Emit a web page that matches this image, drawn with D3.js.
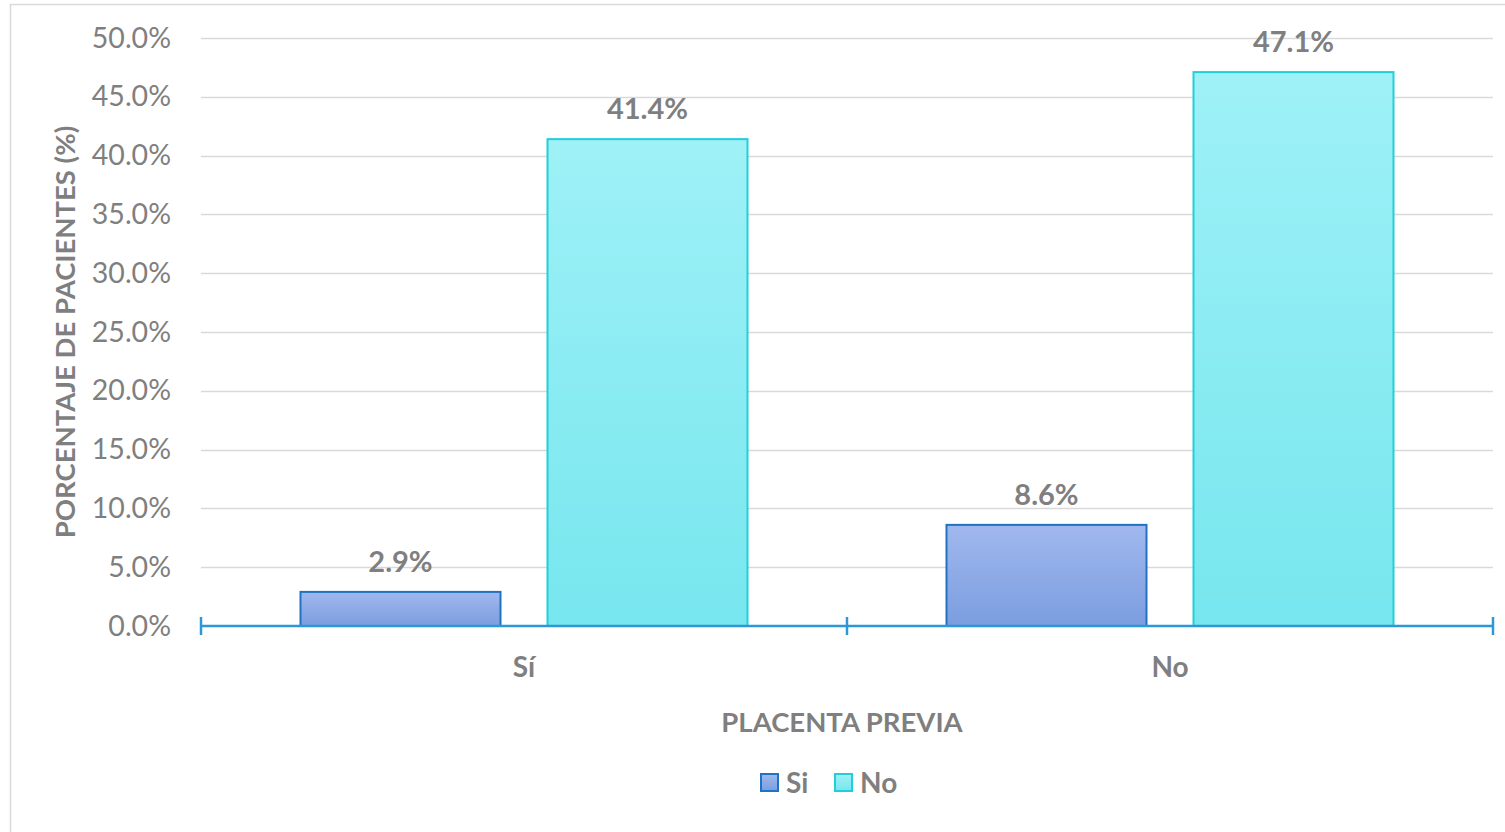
<!DOCTYPE html>
<html>
<head>
<meta charset="utf-8">
<script src="https://cdn.jsdelivr.net/npm/d3@7"></script>
<style>
  html, body { margin: 0; padding: 0; background: #fff; }
  svg { display: block; font-family: Lato, "Open Sans", sans-serif; }
</style>
</head>
<body>
<svg id="chart" width="1505" height="832"></svg>
<script>
const categories = ["Sí", "No"];
const seriesNames = ["Si", "No"];
const valuesSi = [2.9, 8.6];
const valuesNo = [41.4, 47.1];
const yTicks = [0, 5, 10, 15, 20, 25, 30, 35, 40, 45, 50];
const yTitle = "PORCENTAJE DE PACIENTES (%)";
const xTitle = "PLACENTA PREVIA";

const seriesValues = { "Si": valuesSi, "No": valuesNo };
const fills = { "Si": "url(#gradSi)", "No": "url(#gradNo)" };
const strokes = { "Si": "#1f72c4", "No": "#22cfd9" };

const svg = d3.select("#chart");
const W = 1505, H = 832;
const plot = { left: 201, right: 1493, top: 38, bottom: 626 };

const defs = svg.append("defs");
const g1 = defs.append("linearGradient").attr("id", "gradSi").attr("x1", 0).attr("y1", 0).attr("x2", 0).attr("y2", 1);
g1.append("stop").attr("offset", "0%").attr("stop-color", "#a1b8ee");
g1.append("stop").attr("offset", "100%").attr("stop-color", "#7b9ddf");
const g2 = defs.append("linearGradient").attr("id", "gradNo").attr("x1", 0).attr("y1", 0).attr("x2", 0).attr("y2", 1);
g2.append("stop").attr("offset", "0%").attr("stop-color", "#9ef1f7");
g2.append("stop").attr("offset", "100%").attr("stop-color", "#77e6ee");

// chart border
svg.append("rect").attr("x", 10.5).attr("y", 4.5).attr("width", W).attr("height", H)
  .attr("fill", "none").attr("stroke", "#d9d9d9").attr("stroke-width", 1.5);

const y = d3.scaleLinear().domain([0, 50]).range([plot.bottom, plot.top]);
const x0 = d3.scaleBand().domain(categories).range([plot.left, plot.right]).padding(0);
const inner = 447, outerPad = (x0.bandwidth() - inner) / 2;
const x1 = d3.scaleBand().domain(seriesNames).range([outerPad, outerPad + inner]).paddingInner(47 / 247).paddingOuter(0);

// gridlines
svg.append("g").selectAll("line").data(yTicks.filter(t => t > 0)).join("line")
  .attr("x1", plot.left).attr("x2", plot.right)
  .attr("y1", d => Math.round(y(d)) + 0.5).attr("y2", d => Math.round(y(d)) + 0.5)
  .attr("stroke", "#d9d9d9").attr("stroke-width", 1.5);

// y axis labels
const yAxis = d3.axisLeft(y).tickValues(yTicks).tickSize(0).tickPadding(30)
  .tickFormat(d => d.toFixed(1) + "%");
const ya = svg.append("g").attr("transform", `translate(${plot.left},0)`).call(yAxis);
ya.select(".domain").remove();
ya.selectAll("text").attr("fill", "#7f7f7f").style("font-size", "28.5px").style("font-family", "Lato, sans-serif");

// bars
const groups = svg.append("g").selectAll("g").data(categories).join("g")
  .attr("transform", d => `translate(${x0(d)},0)`);
groups.selectAll("rect").data((c, i) => seriesNames.map(s => ({ s, v: seriesValues[s][i] }))).join("rect")
  .attr("x", d => x1(d.s)).attr("width", x1.bandwidth())
  .attr("y", d => y(d.v)).attr("height", d => y(0) - y(d.v))
  .attr("fill", d => fills[d.s]).attr("stroke", d => strokes[d.s]).attr("stroke-width", 2);
groups.selectAll("text.val").data((c, i) => seriesNames.map(s => ({ s, v: seriesValues[s][i] }))).join("text")
  .attr("class", "val")
  .attr("x", d => x1(d.s) + x1.bandwidth() / 2).attr("y", d => y(d.v) - 20)
  .attr("text-anchor", "middle").attr("fill", "#7f7f7f")
  .style("font-size", "29px").style("font-weight", "bold")
  .text(d => d.v.toFixed(1) + "%");

// x axis
const xAxis = d3.axisBottom(x0).tickSize(0).tickPadding(30);
const xa = svg.append("g").attr("transform", `translate(0,${plot.bottom})`).call(xAxis);
xa.select(".domain").attr("stroke", "#2e98d6").attr("stroke-width", 2.5).attr("d", `M${plot.left},0H${plot.right}`);
xa.selectAll("text").attr("fill", "#7f7f7f").style("font-size", "28px").style("font-weight", "bold").style("font-family", "Lato, sans-serif")
  .attr("dy", "0.74em");
const boundaries = [plot.left].concat(categories.map(c => x0(c) + x0.bandwidth()));
xa.append("g").selectAll("line").data(boundaries).join("line")
  .attr("x1", d => d).attr("x2", d => d).attr("y1", -9).attr("y2", 9)
  .attr("stroke", "#2e98d6").attr("stroke-width", 2.5);

// axis titles
svg.append("text").attr("transform", `translate(75,332) rotate(-90)`)
  .attr("text-anchor", "middle").attr("fill", "#7f7f7f")
  .style("font-size", "27.5px").style("font-weight", "bold").text(yTitle);
svg.append("text").attr("x", 842).attr("y", 732).attr("text-anchor", "middle").attr("fill", "#7f7f7f")
  .style("font-size", "27.5px").style("font-weight", "bold").text(xTitle);

// legend
const legendX = { "Si": 761, "No": 835 };
const leg = svg.append("g").selectAll("g").data(seriesNames).join("g")
  .attr("transform", d => `translate(${legendX[d]},774)`);
leg.append("rect").attr("width", 17).attr("height", 17)
  .attr("fill", d => fills[d]).attr("stroke", d => strokes[d]).attr("stroke-width", 2);
leg.append("text").attr("x", 25).attr("y", 19).attr("fill", "#7f7f7f")
  .style("font-size", "28px").style("font-weight", "bold").text(d => d);
</script>
</body>
</html>
